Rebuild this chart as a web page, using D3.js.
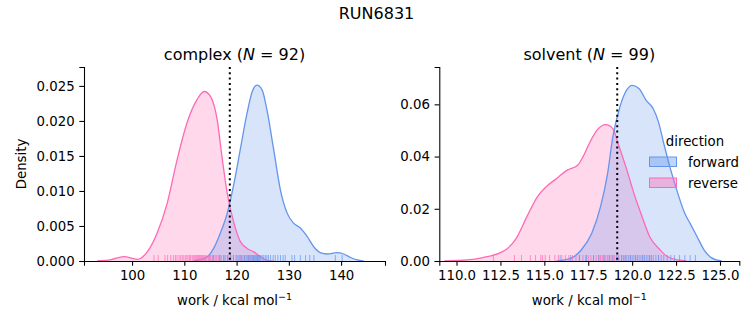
<!DOCTYPE html>
<html><head><meta charset="utf-8">
<script src="https://cdn.jsdelivr.net/npm/d3@7"></script>
<style>
body{margin:0;background:#fff;}
text{font-family:"DejaVu Sans",sans-serif;fill:#000;}
</style></head>
<body><svg id="c" width="753" height="325"></svg>
<script>
// ---- data ----
const suptitle = "RUN6831";
const directions = ["forward", "reverse"];
const colors = {forward: "#6495ED", reverse: "#FF69B4"};

// complex panel density curves [work, density]
const complexForwardX = [111.8,114.4,115.6,116.9,118.2,119.5,120.7,122.0,123.0,123.9,124.9,125.8,127.1,128.4,129.7,130.9,132.2,133.5,134.8,136.0,137.3,139.2,140.5,141.8,143.1,144.3];
const complexForwardY = [0,0.0006,0.0018,0.0040,0.0068,0.0111,0.0159,0.0211,0.0242,0.0251,0.0244,0.0216,0.0159,0.0101,0.0068,0.0054,0.0047,0.0035,0.0020,0.0012,0.0010,0.0012,0.0010,0.0005,0.00015,0];
const complexReverseX = [93.3,96.0,98.4,101.0,102.9,104.8,106.7,108.6,110.5,112.4,113.8,115.0,116.3,117.2,118.2,119.5,120.7,122.0,123.3,124.6,125.8,127.1];
const complexReverseY = [0,0.0002,0.00062,0.00024,0.0013,0.0040,0.0082,0.0144,0.0197,0.0230,0.0242,0.0235,0.0201,0.0149,0.0097,0.0054,0.0028,0.0018,0.0013,0.0006,0.0001,0];
// solvent panel density curves
const solventForwardX = [115.7,116.5,117.1,117.7,118.2,118.6,118.9,119.3,119.7,120.0,120.4,120.8,121.2,121.5,121.8,122.2,122.6,123.0,123.3,123.7,124.1,124.5,124.8,125.1];
const solventForwardY = [0,0.0010,0.0042,0.0106,0.0208,0.0335,0.0475,0.0590,0.0656,0.0673,0.0660,0.0615,0.0583,0.0532,0.0450,0.0348,0.0259,0.0182,0.0144,0.0093,0.0042,0.0013,0.0004,0];
const solventReverseX = [109.3,110.6,111.5,112.5,112.9,113.4,114.0,114.6,115.1,115.7,116.3,116.9,117.2,117.6,118.0,118.5,118.9,119.2,119.7,120.1,120.5,121.0,121.6,122.0,122.6,123.1];
const solventReverseY = [0,0.0004,0.0013,0.0032,0.0048,0.0087,0.0169,0.0246,0.0284,0.0316,0.0348,0.0367,0.0399,0.0456,0.0501,0.0522,0.0507,0.0450,0.0348,0.0259,0.0182,0.0093,0.0042,0.0017,0.0004,0];

// rug values (work samples)
const complexForwardRug = [115.5,116.8,117.6,118.3,118.9,119.4,119.9,120.3,120.6,120.9,121.2,121.5,121.8,122.0,122.2,122.4,122.6,122.8,123.0,123.2,123.4,123.6,123.8,124.0,124.2,124.4,124.6,124.9,125.2,125.5,125.8,126.1,126.5,127.0,127.4,127.9,128.4,128.9,129.3,130.6,131.1,132.2,133.2,134.0,134.8,138.9,140.2];
const complexReverseRug = [104.2,105.0,106.3,106.8,107.4,107.9,108.3,108.6,109.0,109.3,109.6,109.9,110.2,110.5,110.7,111.0,111.2,111.5,111.7,111.9,112.1,112.3,112.5,112.7,112.9,113.1,113.3,113.5,113.7,113.9,114.1,114.3,114.6,114.8,115.0,115.3,115.6,115.9,116.2,116.5,116.8,117.1,117.5,117.9,118.3,118.8,119.4,120.1,120.8,121.5,122.3,123.2,124.0];
const solventForwardRug = [115.9,116.5,117.0,117.4,117.8,118.1,118.4,118.7,118.9,119.1,119.25,119.4,119.5,119.6,119.7,119.8,119.9,120.0,120.1,120.2,120.3,120.4,120.5,120.6,120.7,120.8,120.9,121.0,121.1,121.2,121.35,121.5,121.65,121.8,122.0,122.2,122.4,122.7,123.0,123.3,123.6];
const solventReverseRug = [112.1,113.3,113.7,114.2,114.5,114.8,114.9,115.05,115.3,115.6,115.8,116.0,116.2,116.4,116.6,116.8,117.0,117.2,117.35,117.5,117.65,117.8,117.95,118.1,118.2,118.3,118.4,118.5,118.6,118.7,118.8,118.9,119.0,119.2,119.4,119.6,119.9,120.2,120.6,121.0,121.5];

// reference (dotted) lines
const complexMark = 118.7;
const solventMark = 119.15;

const complexXTicks = [100,110,120,130,140];
const complexYTicks = [0,0.005,0.010,0.015,0.020,0.025];
const solventXTicks = [110,112.5,115,117.5,120,122.5,125];
const solventYTicks = [0,0.02,0.04,0.06];

// ---- drawing ----
const svg = d3.select("#c");
const zip = (xs, ys) => xs.map((x, i) => [x, ys[i]]);

svg.append("text").attr("x", 376.5).attr("y", 19).attr("text-anchor", "middle")
  .style("font-size", "16px").text(suptitle);

function panel(cfg){
  const x = d3.scaleLinear().domain(cfg.xd).range([cfg.x0, cfg.x1]);
  const y = d3.scaleLinear().domain(cfg.yd).range([261, 67]);
  const g = svg.append("g");
  const cid = "clip" + cfg.id;
  svg.append("defs").append("clipPath").attr("id", cid).append("rect")
    .attr("x", cfg.x0).attr("y", 67).attr("width", cfg.x1 - cfg.x0).attr("height", 194);
  const plot = g.append("g").attr("clip-path", `url(#${cid})`);
  const area = d3.area().x(d => x(d[0])).y0(y(0)).y1(d => y(d[1])).curve(d3.curveMonotoneX);
  const line = d3.line().x(d => x(d[0])).y(d => y(d[1])).curve(d3.curveMonotoneX);
  cfg.series.forEach(s => {
    const pts = zip(s.xs, s.ys);
    plot.append("path").attr("d", area(pts)).attr("fill", colors[s.dir]).attr("fill-opacity", 0.26);
  });
  cfg.series.forEach(s => {
    const pts = zip(s.xs, s.ys);
    plot.append("path").attr("d", line(pts)).attr("fill", "none").attr("stroke", colors[s.dir]).attr("stroke-width", 1.3);
  });
  cfg.series.forEach(s => {
    plot.selectAll(null).data(s.rug).enter().append("line")
      .attr("x1", d => x(d)).attr("x2", d => x(d)).attr("y1", 261).attr("y2", 255)
      .attr("stroke", colors[s.dir]).attr("stroke-opacity", 0.7).attr("stroke-width", 1);
  });
  plot.append("line").attr("x1", x(cfg.mark)).attr("x2", x(cfg.mark)).attr("y1", 67).attr("y2", 261)
    .attr("stroke", "#000").attr("stroke-width", 2).attr("stroke-dasharray", "2,3.3");

  const xa = g.append("g").attr("transform", "translate(0,261)")
    .call(d3.axisBottom(x).tickValues(cfg.xt).tickFormat(d3.format(cfg.xf)).tickSizeOuter(0).tickSize(4.7).tickPadding(4.7));
  const ya = g.append("g").attr("transform", `translate(${cfg.x0},0)`)
    .call(d3.axisLeft(y).tickValues(cfg.yt).tickFormat(d3.format(cfg.yf)).tickSizeOuter(0).tickSize(4.7).tickPadding(4.7));
  [xa, ya].forEach(a => {
    a.selectAll("text").style("font-size", "13.3px").style("font-family", "DejaVu Sans");
    a.selectAll("line").attr("stroke-width", 1.07);
    a.select(".domain").attr("stroke-width", 1.07);
  });

  const t = g.append("text").attr("x", (cfg.x0 + cfg.x1) / 2).attr("y", 60).attr("text-anchor", "middle").style("font-size", "16px");
  t.append("tspan").text(cfg.title + " (");
  t.append("tspan").style("font-style", "italic").text("N");
  t.append("tspan").text(" = " + cfg.n + ")");

  const xl = g.append("text").attr("x", (cfg.x0 + cfg.x1) / 2).attr("y", 305).attr("text-anchor", "middle").style("font-size", "13.3px");
  xl.append("tspan").text("work / kcal mol");
  xl.append("tspan").attr("dy", -5).style("font-size", "9.5px").text("\u22121");
  return {x, y};
}

panel({id: 1, x0: 84, x1: 385, xd: [90.8, 148.4], yd: [0, 0.0277], title: "complex", n: 92, mark: complexMark,
  xt: complexXTicks, yt: complexYTicks, xf: "d", yf: ".3f",
  series: [
    {dir: "reverse", xs: complexReverseX, ys: complexReverseY, rug: complexReverseRug},
    {dir: "forward", xs: complexForwardX, ys: complexForwardY, rug: complexForwardRug}
  ]});
panel({id: 2, x0: 439.3, x1: 739.3, xd: [109.02, 126.1], yd: [0, 0.0743], title: "solvent", n: 99, mark: solventMark,
  xt: solventXTicks, yt: solventYTicks, xf: ".1f", yf: ".2f",
  series: [
    {dir: "reverse", xs: solventReverseX, ys: solventReverseY, rug: solventReverseRug},
    {dir: "forward", xs: solventForwardX, ys: solventForwardY, rug: solventForwardRug}
  ]});

svg.append("text").attr("transform", "translate(26,164) rotate(-90)").attr("text-anchor", "middle")
  .style("font-size", "13.3px").text("Density");

// legend
const lg = svg.append("g");
lg.append("text").attr("x", 695).attr("y", 146).attr("text-anchor", "middle").style("font-size", "13.3px").text("direction");
directions.forEach((d, i) => {
  const yy = 157 + i * 21;
  lg.append("rect").attr("x", 649.5).attr("y", yy).attr("width", 27).attr("height", 9.5)
    .attr("fill", colors[d]).attr("fill-opacity", 0.4).attr("stroke", colors[d]).attr("stroke-width", 1);
  lg.append("text").attr("x", 688).attr("y", yy + 9.5).style("font-size", "13.3px").text(d);
});
</script></body></html>
